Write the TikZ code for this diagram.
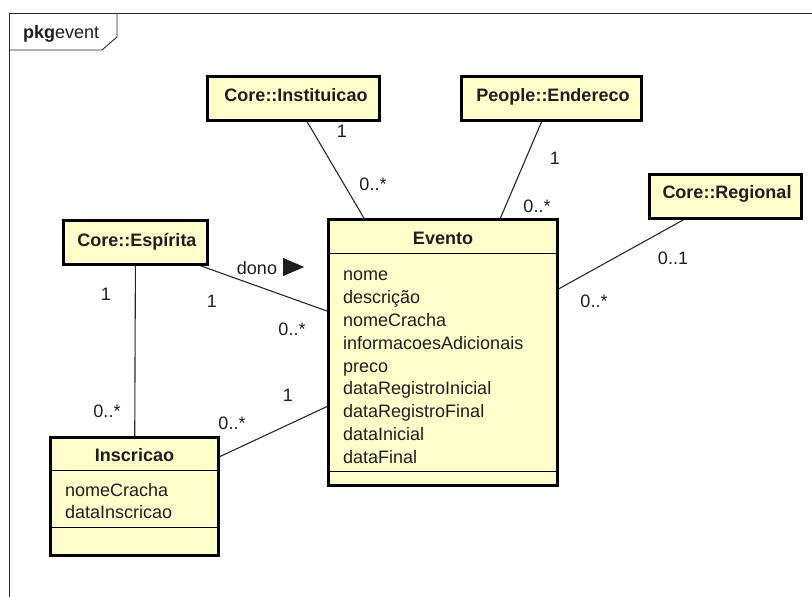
\documentclass[tikz,border=0pt]{standalone}
\usepackage{fontspec}
\setmainfont{Liberation Sans}
\usetikzlibrary{calc}
\definecolor{classfill}{RGB}{255,255,204}
\definecolor{ink}{RGB}{30,30,30}
\definecolor{wire}{RGB}{40,40,40}
\begin{document}
\begin{tikzpicture}[x=1pt,y=-1pt,
  every node/.style={font=\fontsize{18}{23}\selectfont, text=ink},
  classbox/.style={draw=black, fill=classfill, line width=2.6pt, inner sep=0pt, rectangle},
  boxname/.style={font=\fontsize{18}{23}\selectfont\bfseries, anchor=base, inner sep=0pt},
  attr/.style={anchor=base west, inner sep=0pt},
  mult/.style={inner sep=0pt},
  assoc/.style={draw=wire, line width=1.1pt},
  divider/.style={draw=black, line width=1.1pt}]
\useasboundingbox (0,0) rectangle (812,597);
\fill[white] (0,0) rectangle (812,597);

% package frame with its name tab
\draw[wire, line width=0.9pt] (9,597) -- (9,13) -- (812,13);
\draw[wire, line width=0.9pt] (9,50) -- (102,50) -- (117,37) -- (117,13);
\node[anchor=base west, inner sep=0pt, font=\fontsize{18}{22}\selectfont] (pkgname) at (23,38) {\textbf{pkg}event};

% classes
\node[classbox, minimum width=172pt, minimum height=44pt] (inst) at (293.5,98.5) {};
\node[boxname] (instname) at (296,101) {Core::Instituicao};
\node[classbox, minimum width=180pt, minimum height=44pt] (ender) at (551.5,98.5) {};
\node[boxname] (endername) at (553,101) {People::Endereco};
\node[classbox, minimum width=152pt, minimum height=44pt] (reg) at (725.5,196.5) {};
\node[boxname] (regname) at (727,198) {Core::Regional};
\node[classbox, minimum width=144pt, minimum height=44pt] (esp) at (135.5,242.5) {};
\node[boxname] (espname) at (137,246) {Core::Espírita};

\node[classbox, minimum width=229pt, minimum height=266pt] (evento) at (443,352.5) {};
\node[boxname] (eventoname) at (443,244) {Evento};
\draw[divider] ($(evento.north west)+(0,35)$) -- ($(evento.north east)+(0,35)$);
\draw[divider] ($(evento.south west)+(0,-15)$) -- ($(evento.south east)+(0,-15)$);
\node[attr] (a1) at (343,280) {nome};
\node[attr] (a2) at (343,303) {descrição};
\node[attr] (a3) at (343,326) {nomeCracha};
\node[attr] (a4) at (343,349) {informacoesAdicionais};
\node[attr] (a5) at (343,372) {preco};
\node[attr] (a6) at (343,394) {dataRegistroInicial};
\node[attr] (a7) at (343,417) {dataRegistroFinal};
\node[attr] (a8) at (343,440) {dataInicial};
\node[attr] (a9) at (343,463) {dataFinal};

\node[classbox, minimum width=168pt, minimum height=118pt] (insc) at (134.5,496.5) {};
\node[boxname] (inscname) at (134.5,461) {Inscricao};
\draw[divider] ($(insc.north west)+(0,34)$) -- ($(insc.north east)+(0,34)$);
\draw[divider] ($(insc.south west)+(0,-29)$) -- ($(insc.south east)+(0,-29)$);
\node[attr] (b1) at (65,496) {nomeCracha};
\node[attr] (b2) at (65,518) {dataInscricao};

% associations
\draw[assoc] (inst) -- (evento);
\draw[assoc] (ender) -- (evento);
\draw[assoc] (reg) -- (evento);
\draw[assoc] (esp) -- (evento);
\draw[assoc] (esp) -- (insc);
\draw[assoc] (insc) -- (evento);

% multiplicities
\node[mult] (m1) at (342,131) {1};
\node[mult] (m2) at (373,184) {0..*};
\node[mult] (m3) at (555,158) {1};
\node[mult] (m4) at (537,206) {0..*};
\node[mult] (m5) at (673,258) {0..1};
\node[mult] (m6) at (594,301) {0..*};
\node[mult] (m7) at (212,301) {1};
\node[mult] (m8) at (292,329) {0..*};
\node[mult] (m9) at (106,294) {1};
\node[mult] (m10) at (107,411) {0..*};
\node[mult] (m11) at (232,423) {0..*};
\node[mult] (m12) at (288,395) {1};

% association name with reading direction
\node[inner sep=0pt] (dono) at (257,268) {dono};
\fill[ink] ($(dono.east)+(6,-10)$) -- ($(dono.east)+(27,-1)$) -- ($(dono.east)+(6,8)$) -- cycle;
\end{tikzpicture}
\end{document}
